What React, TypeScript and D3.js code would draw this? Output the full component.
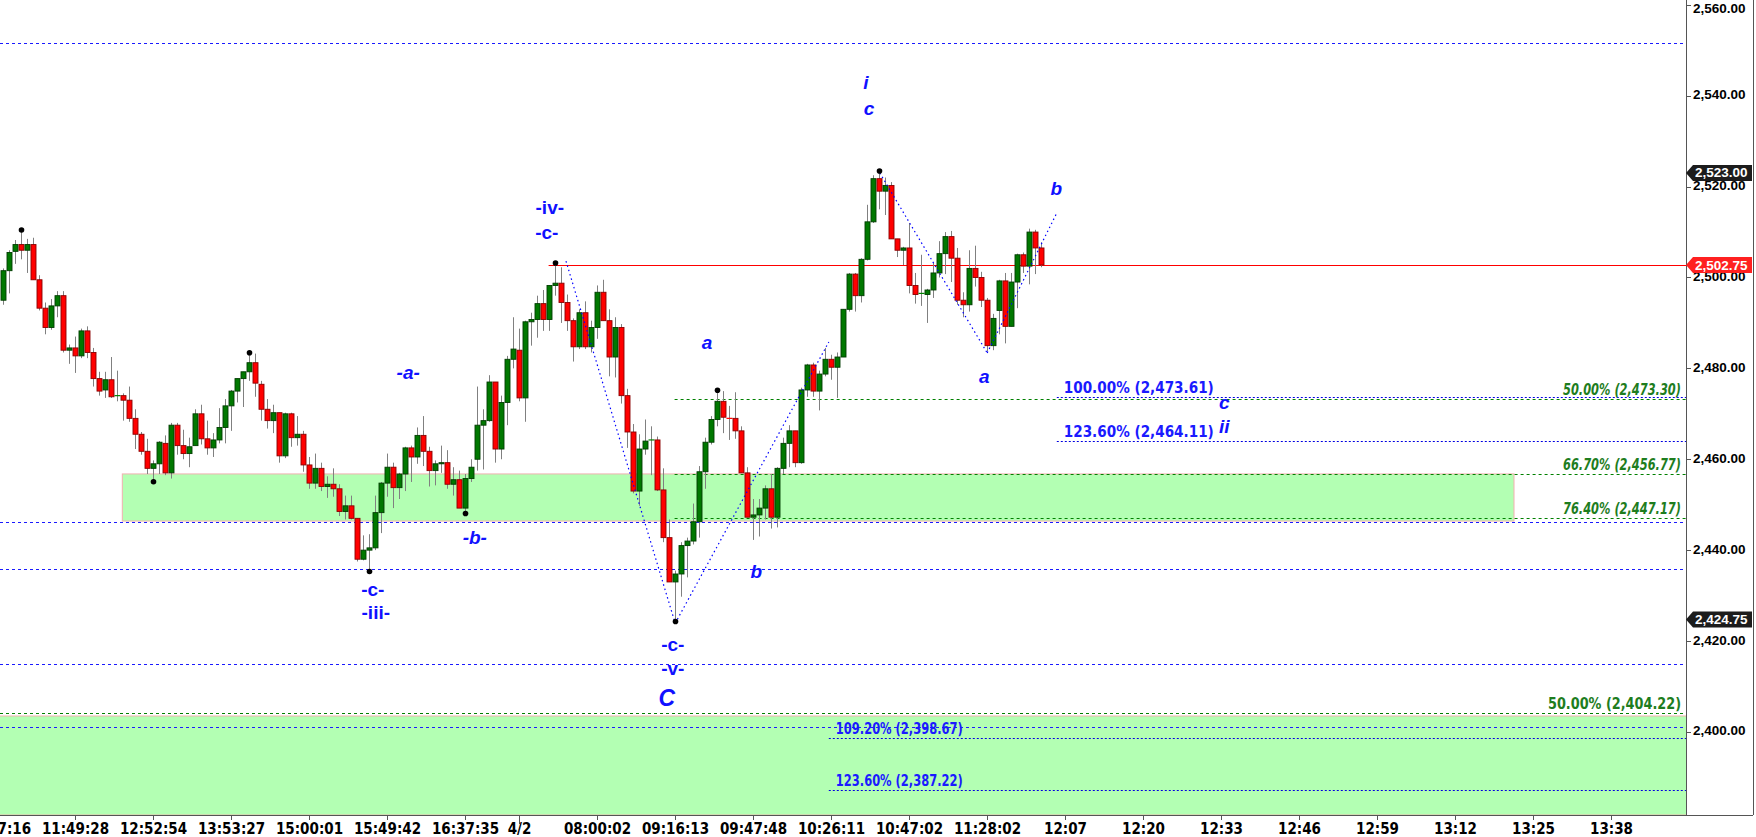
import * as d3 from "d3";

// candle data (one bar per slot, index 0 = leftmost bar)
const opens = [
  2495, 2501.5, 2505.75, 2507.25, 2506, 2507.25, 2499.5, 2493.25, 2489, 2493.75,
  2496, 2484, 2484.5, 2482.75, 2488.25, 2483.5, 2477.75, 2475.25, 2477.5, 2474,
  2474, 2473, 2469, 2465.5, 2461.75, 2458, 2459, 2463.5, 2457, 2467.5,
  2463, 2461.25, 2463, 2470, 2464.5, 2462.5, 2464.25, 2467, 2471.75, 2475,
  2477.75, 2479.25, 2481.25, 2476.5, 2471, 2468.5, 2470.25, 2460.75, 2470, 2464.75,
  2465.5, 2458.75, 2454.75, 2458, 2454, 2454.5, 2453.5, 2448.5, 2449.75, 2447,
  2438, 2440, 2440.5, 2448.25, 2454.75, 2458.25, 2453.75, 2456.75, 2462.5, 2460.5,
  2465.25, 2461.75, 2457.5, 2459, 2459.25, 2454.5, 2455.5, 2449.25, 2455.75, 2460,
  2467.5, 2468.5, 2477, 2462.25, 2472.5, 2482, 2484, 2473.5, 2490.25, 2490.75,
  2494.25, 2490.75, 2498.25, 2498.75, 2494.5, 2490.5, 2484.75, 2492.25, 2484.75, 2489,
  2496.75, 2490.5, 2482.5, 2489, 2474, 2466, 2453, 2462.25, 2464.25, 2464.25,
  2453.25, 2442.75, 2433, 2434.75, 2441, 2442, 2446.25, 2457.25, 2463.75, 2468.75,
  2472.75, 2469, 2469, 2466.25, 2457, 2447.25, 2447.75, 2449.25, 2453.5, 2447.25,
  2458, 2463.5, 2466.25, 2459.25, 2475.25, 2480.75, 2475, 2478.75, 2482, 2480.25,
  2482.5, 2493, 2500.75, 2496, 2504, 2512.25, 2521.75, 2519, 2520.25, 2508.5,
  2506, 2506.5, 2498.25, 2496.5, 2496.25, 2497.25, 2501, 2505.25, 2509, 2504.25,
  2495, 2494, 2502, 2500, 2495, 2485, 2492.75, 2499.25, 2489.25, 2499,
  2505, 2502.5, 2510, 2506.5,
];
const highs = [
  2502, 2506, 2508.25, 2510, 2508.5, 2508.75, 2500.5, 2494.5, 2495.25, 2497,
  2497, 2485.25, 2487, 2488.75, 2489.25, 2484.5, 2479.25, 2479.25, 2482.5, 2479.5,
  2474.5, 2476, 2471, 2466, 2464.5, 2459.75, 2464, 2465.25, 2468, 2468,
  2466.5, 2464.75, 2471, 2472, 2468.5, 2465.75, 2471.25, 2473.25, 2475.25, 2477.75,
  2479.25, 2483, 2483.25, 2477.25, 2473.25, 2472, 2470.25, 2470.25, 2470.25, 2469.5,
  2466.25, 2460.5, 2461.25, 2459.25, 2456.25, 2458, 2454.5, 2452, 2452, 2447,
  2443.25, 2443.5, 2452, 2455, 2461.25, 2459.25, 2457, 2462.75, 2463, 2467,
  2469.5, 2462.75, 2459.75, 2463, 2462, 2458.25, 2457.5, 2456.75, 2460, 2476,
  2471, 2478.5, 2477, 2474, 2482.75, 2491.25, 2488.75, 2490.5, 2492.25, 2496,
  2497.25, 2498.25, 2502.75, 2502.25, 2496.25, 2491, 2493, 2494.75, 2490.5, 2498.25,
  2499.5, 2493, 2491.25, 2489.75, 2475.5, 2467.75, 2465.5, 2468.75, 2467.25, 2465,
  2458, 2446.75, 2435.5, 2441.75, 2442.75, 2450.25, 2458.5, 2464.75, 2469.5, 2474.75,
  2475, 2471.75, 2474.75, 2467.25, 2458.25, 2451.25, 2451.25, 2454.25, 2456.75, 2458.25,
  2464.75, 2467.5, 2466.25, 2475.75, 2481, 2481.25, 2479.5, 2484.5, 2483, 2483.5,
  2493, 2501, 2501, 2504.25, 2516, 2522.5, 2523, 2522, 2521, 2508.5,
  2506.75, 2512, 2501, 2505, 2497.5, 2503.25, 2508, 2510, 2510.25, 2506.5,
  2496.75, 2506, 2507, 2501.25, 2495.5, 2492, 2499.5, 2501, 2501, 2505.25,
  2505.5, 2510.75, 2510.5, 2507.75,
];
const lows = [
  2494, 2496.5, 2503, 2504, 2501, 2499.5, 2492.75, 2487.5, 2488.5, 2491.25,
  2483.5, 2481, 2479, 2482.25, 2482.25, 2476, 2474, 2473.5, 2473.5, 2472.75,
  2468.5, 2468.25, 2462.25, 2461, 2456.75, 2455.5, 2456.75, 2456.5, 2455.75, 2461,
  2460, 2458.25, 2463, 2463.25, 2461, 2460.5, 2463.5, 2463.5, 2466.25, 2472.5,
  2471.5, 2477.25, 2473.75, 2468.5, 2466.75, 2465.75, 2459.25, 2460.25, 2462.75, 2463,
  2457.25, 2453.5, 2453.5, 2453, 2451.5, 2451.75, 2447.5, 2446.75, 2446.75, 2437.5,
  2437.75, 2435.75, 2440, 2443.75, 2451.75, 2449.25, 2451.25, 2453, 2455, 2459,
  2458.5, 2454, 2454.25, 2457, 2453.5, 2452, 2449.25, 2448.5, 2455, 2457.5,
  2457.75, 2468.25, 2459.25, 2460, 2467.5, 2480, 2472.75, 2468.25, 2485, 2486.75,
  2488.25, 2488.25, 2496, 2490, 2488.25, 2481.5, 2484.25, 2484.25, 2483.5, 2486.5,
  2490.5, 2478.25, 2478, 2472.25, 2462.5, 2452.5, 2449.75, 2461, 2456.5, 2453,
  2441.75, 2433, 2424.75, 2429.75, 2434, 2441.25, 2442.75, 2453.5, 2463.25, 2467.25,
  2465.75, 2464.25, 2464.5, 2457, 2447.25, 2442.25, 2443, 2446.75, 2444.75, 2445,
  2456.75, 2458.25, 2458.25, 2459, 2473.75, 2473.75, 2470.75, 2478.25, 2477.5, 2473.5,
  2482.5, 2492.5, 2492.5, 2494.5, 2503.75, 2512, 2515, 2513.75, 2508.5, 2504.5,
  2502.75, 2496.5, 2494.25, 2493.75, 2490, 2495.5, 2500, 2500.75, 2499, 2494,
  2491.25, 2492.5, 2498, 2493.5, 2483.75, 2484, 2487.5, 2485.5, 2489.25, 2493.25,
  2501, 2498.5, 2500.75, 2502.25,
];
const closes = [
  2501.5, 2505.5, 2507.25, 2506, 2507.25, 2499.5, 2493.25, 2489, 2493.75, 2496,
  2484, 2484.5, 2482.75, 2488.25, 2483.5, 2477.75, 2475, 2477.5, 2473.75, 2474,
  2473, 2469, 2465.5, 2461.75, 2458, 2459, 2463.75, 2457, 2467.5, 2463,
  2461.25, 2462.75, 2470, 2464.5, 2462.5, 2464.25, 2467, 2471.75, 2475, 2477.75,
  2479.25, 2481.25, 2476.75, 2471, 2468.5, 2470.25, 2460.75, 2470, 2464.75, 2465.5,
  2458.75, 2454.75, 2458, 2454, 2454.5, 2453.5, 2448.5, 2449.75, 2447, 2438,
  2440, 2440.5, 2448.25, 2454.75, 2458.25, 2453.75, 2456.75, 2462.5, 2460.5, 2465.25,
  2461.75, 2457.5, 2459, 2459.25, 2454.5, 2455.5, 2449.25, 2455.75, 2458.25, 2467.5,
  2468.5, 2477, 2462.25, 2472.5, 2482, 2484.25, 2473.5, 2490.25, 2490.75, 2494.25,
  2490.75, 2498.25, 2498.75, 2494.5, 2490.5, 2484.75, 2492.25, 2484.75, 2489, 2496.75,
  2490.5, 2482.5, 2489, 2474, 2466, 2453, 2462.25, 2464, 2464.25, 2453.25,
  2442.75, 2433, 2434.75, 2441, 2442, 2446.25, 2457.25, 2463.75, 2468.75, 2472.75,
  2469.25, 2469, 2466.25, 2457, 2447.25, 2447.75, 2449.25, 2453.5, 2447.25, 2458,
  2463.5, 2466.25, 2459.25, 2475.25, 2480.75, 2475, 2478.75, 2482, 2480.25, 2482.5,
  2493, 2500.75, 2496, 2504, 2512.25, 2521.75, 2519, 2520.25, 2508.5, 2506,
  2506.5, 2498.25, 2496.25, 2496.5, 2497.25, 2501, 2505.25, 2509, 2504.25, 2495,
  2494, 2502, 2500, 2495, 2485, 2491, 2499.25, 2489.25, 2499, 2505,
  2502.5, 2510, 2506.5, 2502.75,
];

// time axis: bar index of each tick and its label
const timeTicks: [number, string][] = [
  [-1, "11:07:16"], [12, "11:49:28"], [25, "12:52:54"], [38, "13:53:27"],
  [51, "15:00:01"], [64, "15:49:42"], [77, "16:37:35"], [86, "4/2"],
  [99, "08:00:02"], [112, "09:16:13"], [125, "09:47:48"], [138, "10:26:11"],
  [151, "10:47:02"], [164, "11:28:02"], [177, "12:07"], [190, "12:20"],
  [203, "12:33"], [216, "12:46"], [229, "12:59"], [242, "13:12"],
  [255, "13:25"], [268, "13:38"],
];
const priceTicks = [2400, 2420, 2440, 2460, 2480, 2500, 2520, 2540, 2560];

// swing markers
const swingHighs = [3, 41, 92, 119, 146];
const swingLows = [25, 61, 77, 112];

// horizontal levels
const blueLines = [2551.5, 2446.2, 2435.8, 2414.9, 2401.1];
const greenFib = [
  { price: 2473.3, label: "50.00% (2,473.30)", from: 112, italic: true, len: 118 },
  { price: 2456.77, label: "66.70% (2,456.77)", from: 112, italic: true, len: 118 },
  { price: 2447.17, label: "76.40% (2,447.17)", from: 112, italic: true, len: 118 },
  { price: 2404.22, label: "50.00% (2,404.22)", from: -1, italic: false, len: 133 },
];
const blueFib = [
  { price: 2473.61, label: "100.00% (2,473.61)", from: 175.7, len: 150 },
  { price: 2464.11, label: "123.60% (2,464.11)", from: 175.7, len: 150 },
  { price: 2398.67, label: "109.20% (2,398.67)", from: 137.7, len: 127 },
  { price: 2387.22, label: "123.60% (2,387.22)", from: 137.7, len: 127 },
];
const zones = [
  { from: 19.95, to: 251.9, top: 2456.77, bottom: 2446.4 },
  { from: -1, to: 281, top: 2403.5, bottom: 2381.7 },
];
const lastPrice = 2502.75;
const lastLineFrom = 91;
const priceBoxes = [
  { price: 2523.0, color: "#1c1c1c" },
  { price: 2502.75, color: "#ff2020" },
  { price: 2424.75, color: "#1c1c1c" },
];

// wave lines (bar index, price)
const waveLines: [number, number, number, number][] = [
  [93.9, 2503.6, 112.1, 2423.9],
  [112.1, 2423.9, 137.7, 2485.8],
  [146.2, 2523.0, 164.1, 2483.4],
  [164.1, 2483.4, 175.7, 2514.2],
];

// wave labels (bar index, price, text, italic, size)
const waveLabels: [number, number, string, boolean, number][] = [
  [67.6, 2479.0, "-a-", true, 19],
  [78.7, 2442.7, "-b-", true, 19],
  [61.7, 2431.4, "-c-", false, 19],
  [62.2, 2426.2, "-iii-", false, 19],
  [91.2, 2515.3, "-iv-", false, 19],
  [90.7, 2510.0, "-c-", false, 19],
  [117.4, 2485.8, "a", true, 19],
  [125.6, 2435.4, "b", true, 19],
  [111.7, 2419.3, "-c-", false, 19],
  [111.7, 2414.0, "-v-", false, 19],
  [110.7, 2407.5, "C", true, 23],
  [143.9, 2543.0, "i", true, 19],
  [144.4, 2537.1, "c", true, 19],
  [163.6, 2478.3, "a", true, 19],
  [175.6, 2519.5, "b", true, 19],
  [203.6, 2472.4, "c", true, 19],
  [203.6, 2467.1, "ii", true, 19],
];

const W = 1756;
const H = 837;
const plotRight = 1686;
const plotBottom = 815;
const narrow = "'Liberation Sans Narrow', 'Arial Narrow', 'DejaVu Sans Condensed', sans-serif";
const sans = "'Liberation Sans', Arial, sans-serif";

export default function App() {
  const x = d3.scaleLinear().domain([0, 280]).range([2.6, 1682.6]);
  const y = d3.scaleLinear().domain([2381.71, 2561.07]).range([plotBottom, 0]);
  const bw = 5;
  const fmt = d3.format(",.2f");

  const candles = closes.map((c, i) => {
    const o = opens[i];
    const prev = i > 0 ? closes[i - 1] : o;
    const up = c > o || (c === o && c >= prev);
    const cx = Math.round(x(i)) + 0.5;
    const top = y(Math.max(o, c));
    const bot = y(Math.min(o, c));
    return (
      <g key={i}>
        <line x1={cx} x2={cx} y1={y(highs[i])} y2={y(lows[i])} stroke="#808080" strokeWidth={1} />
        {c === o ? (
          <line x1={cx - 3} x2={cx + 3} y1={top} y2={top} stroke={up ? "#008000" : "#ff0000"} strokeWidth={1.2} />
        ) : (
          <rect
            x={cx - bw / 2}
            y={top}
            width={bw}
            height={Math.max(1, bot - top)}
            fill={up ? "#007800" : "#ff0000"}
            stroke={up ? "#003c00" : "#8a0000"}
            strokeWidth={0.9}
          />
        )}
      </g>
    );
  });

  return (
    <div style={{ position: "fixed", left: 0, top: 0 }}>
      <svg width={W} height={H} style={{ display: "block", background: "#fff" }}>
        <defs>
          <clipPath id="plot">
            <rect x={0} y={0} width={plotRight} height={plotBottom} />
          </clipPath>
        </defs>
        <g clipPath="url(#plot)">
          {zones.map((z, i) => (
            <rect
              key={i}
              x={Math.max(-2, x(z.from))}
              y={y(z.top)}
              width={Math.min(plotRight + 2, x(z.to)) - Math.max(-2, x(z.from))}
              height={y(z.bottom) - y(z.top)}
              fill="#b3ffb3"
              stroke="#f2b0b0"
              strokeWidth={1}
            />
          ))}
          {blueLines.map((p, i) => (
            <line key={i} x1={0} x2={plotRight} y1={Math.round(y(p)) + 0.5} y2={Math.round(y(p)) + 0.5}
              stroke="#1a1aff" strokeDasharray="3,3" />
          ))}
          {greenFib.map((f, i) => (
            <line key={i} x1={Math.max(0, x(f.from))} x2={plotRight} y1={Math.round(y(f.price)) + 0.5} y2={Math.round(y(f.price)) + 0.5}
              stroke="#008000" strokeDasharray="3,3" />
          ))}
          {blueFib.map((f, i) => (
            <line key={i} x1={x(f.from)} x2={plotRight} y1={Math.round(y(f.price)) + 0.5} y2={Math.round(y(f.price)) + 0.5}
              stroke="#0000e0" strokeDasharray="2,2" />
          ))}
          <line x1={x(lastLineFrom)} x2={plotRight} y1={Math.round(y(lastPrice)) + 0.5} y2={Math.round(y(lastPrice)) + 0.5}
            stroke="#ff0000" strokeWidth={1.2} />
          {candles}
          {waveLines.map((l, i) => (
            <line key={i} x1={x(l[0])} y1={y(l[1])} x2={x(l[2])} y2={y(l[3])}
              stroke="#0000ff" strokeWidth={1.2} strokeDasharray="1.5,3" />
          ))}
          {swingHighs.map((i) => (
            <circle key={"h" + i} cx={Math.round(x(i)) + 0.5} cy={y(highs[i]) - 2} r={2.8} fill="#000" />
          ))}
          {swingLows.map((i) => (
            <circle key={"l" + i} cx={Math.round(x(i)) + 0.5} cy={y(lows[i]) + 2} r={2.8} fill="#000" />
          ))}
          {greenFib.map((f, i) => (
            <text key={i} x={1681 - f.len} y={y(f.price) - 4} fontFamily={narrow}
              fontSize={15} fontWeight="bold" fontStyle={f.italic ? "italic" : "normal"} fill="#1e7d1e"
              textLength={f.len} lengthAdjust="spacingAndGlyphs">
              {f.label}
            </text>
          ))}
          {blueFib.map((f, i) => (
            <text key={i} x={x(f.from) + 7} y={y(f.price) - 4} fontFamily={narrow}
              fontSize={15} fontWeight="bold" fill="#1a1aff"
              textLength={f.len} lengthAdjust="spacingAndGlyphs">
              {f.label}
            </text>
          ))}
          {waveLabels.map((w, i) => (
            <text key={i} x={x(w[0])} y={y(w[1])} textAnchor="middle" dominantBaseline="central"
              fontFamily={sans} fontWeight="bold" fontStyle={w[3] ? "italic" : "normal"} fontSize={w[4]} fill="#1010ff">
              {w[2]}
            </text>
          ))}
        </g>

        {/* axes */}
        <line x1={0} x2={1753} y1={plotBottom + 0.5} y2={plotBottom + 0.5} stroke="#555" />
        <line x1={plotRight + 0.5} x2={plotRight + 0.5} y1={0} y2={plotBottom} stroke="#555" />
        <line x1={1753.5} x2={1753.5} y1={0} y2={plotBottom} stroke="#555" />
        {priceTicks.map((p) => (
          <g key={p}>
            <line x1={plotRight} x2={plotRight + 5} y1={Math.round(y(p)) + 0.5} y2={Math.round(y(p)) + 0.5} stroke="#555" />
            <text x={plotRight + 7} y={Math.max(8, y(p) - 1)} dominantBaseline="central" fontFamily={sans} fontWeight="bold" fontSize={13.5} fill="#000">
              {fmt(p)}
            </text>
          </g>
        ))}
        {priceBoxes.map((b, i) => {
          const cy = y(b.price);
          return (
            <g key={i}>
              <path d={`M${plotRight},${cy} L${plotRight + 7},${cy - 8} H1752 V${cy + 8} H${plotRight + 7} Z`} fill={b.color} />
              <text x={plotRight + 9} y={cy} dominantBaseline="central" fontFamily={sans} fontWeight="bold" fontSize={13.5} fill="#fff">
                {fmt(b.price)}
              </text>
            </g>
          );
        })}
        {timeTicks.map(([i, label]) => {
          const tx = Math.round(x(i)) + 0.5;
          return (
            <g key={label}>
              <line x1={tx} x2={tx} y1={plotBottom} y2={plotBottom + (label === "4/2" ? 9 : 5)} stroke="#555" />
              <text x={tx} y={plotBottom + 14} textAnchor="middle" dominantBaseline="central" fontFamily={narrow}
                fontWeight="bold" fontSize={15} fill="#000">
                {label}
              </text>
            </g>
          );
        })}
      </svg>
    </div>
  );
}
